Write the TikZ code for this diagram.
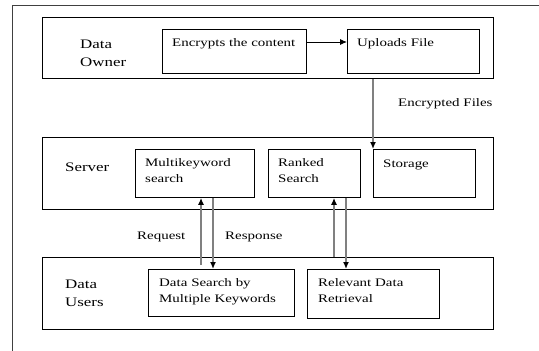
\documentclass[tikz,border=0pt]{standalone}
\usepackage{fontspec}
\setmainfont{Liberation Serif}[FakeStretch=1.3]
\usetikzlibrary{arrows.meta}
\begin{document}
\begin{tikzpicture}[x=1pt,y=-1pt,
  frame/.style={draw=black!75,line width=0.9pt},
  box/.style={draw=black,line width=0.9pt,anchor=north west,inner sep=0pt},
  txt/.style={anchor=base west,inner sep=0pt,font=\fontsize{11.5}{16}\selectfont,text width=140pt,align=left},
  lbl/.style={anchor=base west,inner sep=0pt,font=\fontsize{13}{18}\selectfont,text width=80pt,align=left},
  flow/.style={draw=black!50,line width=1.3pt,-{Latex[length=7pt,width=6pt,color=black]}}
]
\useasboundingbox (0,0) rectangle (539,351);
% outer frame (cut at right and bottom)
\draw[frame] (12,351) -- (12,5) -- (539,5);

% layers
\node[box,minimum width=451pt,minimum height=61pt] (owner) at (42,17) {};
\node[box,minimum width=451pt,minimum height=72pt] (server) at (42,137) {};
\node[box,minimum width=451pt,minimum height=72pt] (users) at (42,257) {};

% inner boxes
\node[box,minimum width=144pt,minimum height=44pt] (enc) at (162,29) {};
\node[box,minimum width=132pt,minimum height=44pt] (up) at (347,29) {};
\node[box,minimum width=119pt,minimum height=48pt] (mk) at (135,149) {};
\node[box,minimum width=92pt,minimum height=48pt] (rk) at (268,149) {};
\node[box,minimum width=102pt,minimum height=48pt] (st) at (373,149) {};
\node[box,minimum width=146pt,minimum height=47pt] (ds) at (148,269) {};
\node[box,minimum width=132pt,minimum height=49pt] (rel) at (307,269) {};

% texts
\node[lbl] (tOwner) at (80,48) {Data\\Owner};
\node[lbl] (tServer) at (65,171) {Server};
\node[lbl] (tUsers) at (65,288) {Data\\Users};
\node[txt] (tEnc) at (172,46) {Encrypts the content};
\node[txt] (tUp) at (357,46) {Uploads File};
\node[txt] (tEF) at (398,106) {Encrypted Files};
\node[txt] (tMk) at (145,166) {Multikeyword\\search};
\node[txt] (tRk) at (278,166) {Ranked\\Search};
\node[txt] (tSt) at (383,167) {Storage};
\node[txt] (tReq) at (137,239) {Request};
\node[txt] (tRes) at (225,239) {Response};
\node[txt] (tDs) at (159,286) {Data Search by\\Multiple Keywords};
\node[txt] (tRel) at (318,286) {Relevant Data\\Retrieval};

% connectors
\draw[line width=0.9pt,-{Latex[length=7pt,width=6pt]}] (enc.east |- 0,42) -- (up.west |- 0,42);
\draw[flow] (owner.south -| st.west) -- (st.north west);
\draw[flow] (201,265) -- (mk.south -| 201,0);
\draw[flow] (mk.south -| 213,0) -- (213,269);
\draw[flow] (users.north -| 334,0) -- (rk.south -| 334,0);
\draw[flow] (rk.south -| 346,0) -- (346,269);
\end{tikzpicture}
\end{document}
